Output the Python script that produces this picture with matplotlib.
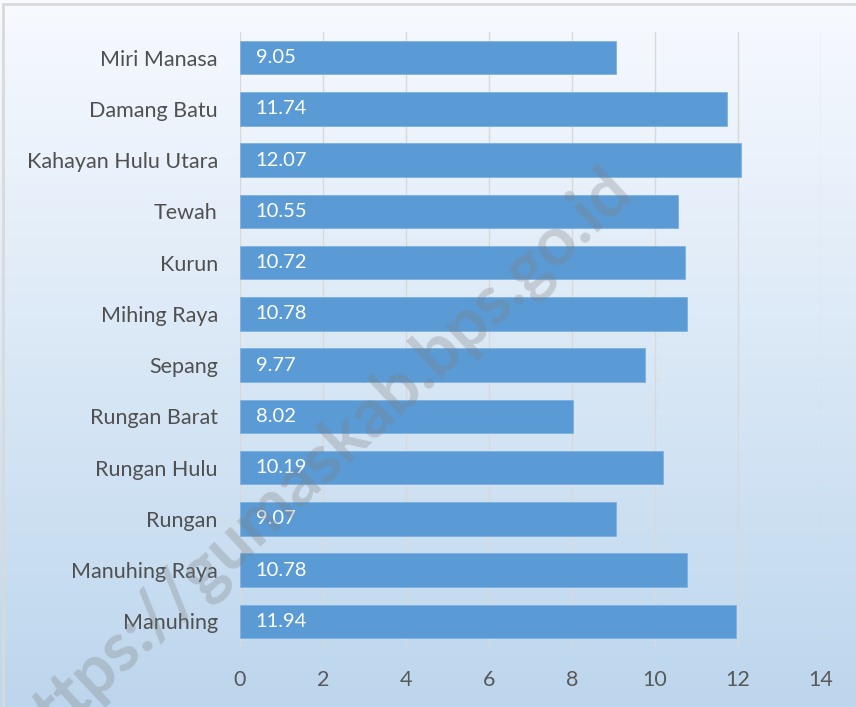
import numpy as np
import matplotlib
matplotlib.use('Agg')
from matplotlib import pyplot as plt
from matplotlib.patches import Rectangle

districts = ['Miri Manasa', 'Damang Batu', 'Kahayan Hulu Utara', 'Tewah', 'Kurun',
             'Mihing Raya', 'Sepang', 'Rungan Barat', 'Rungan Hulu', 'Rungan',
             'Manuhing Raya', 'Manuhing']
values = [9.05, 11.74, 12.07, 10.55, 10.72, 10.78, 9.77, 8.02, 10.19, 9.07, 10.78, 11.94]
xticks = [0, 2, 4, 6, 8, 10, 12, 14]

plt.rcParams['font.family'] = ['Lato', 'DejaVu Sans']

fig = plt.figure(figsize=(8.56, 7.07), dpi=100)

# background gradient, white at top to light blue at bottom
bg = fig.add_axes([0, 0, 1, 1], zorder=-10)
grad = np.linspace(0, 1, 256).reshape(-1, 1)
top = np.array([0.97, 0.98, 1.0])
bottom = np.array([0.74, 0.84, 0.93])
img = top + (bottom - top) * grad[..., None]
bg.imshow(img, aspect='auto', extent=[0, 1, 0, 1])
bg.set_axis_off()
bg.add_patch(Rectangle((0.004, -0.01), 1.0, 1.005, transform=bg.transAxes,
                       fill=False, edgecolor='#d9d9d9', linewidth=2))

ax = fig.add_axes([240 / 856, 60 / 707, (821 - 240) / 856, (675 - 60) / 707])
ax.patch.set_alpha(0)
ypos = np.arange(len(districts))
ax.barh(ypos, values, height=0.65, color='#5b9bd5', edgecolor='#7eb1df',
        linewidth=0.6, zorder=3)
for y, v in zip(ypos, values):
    ax.text(0.38, y, f'{v:.2f}', color='white', fontsize=14.5, va='center',
            ha='left', zorder=4)

ax.set_yticks(ypos)
ax.set_yticklabels(districts, fontsize=15.5, color='#505050')
ax.set_ylim(len(districts) - 0.5, -0.5)
ax.set_xlim(0, 14)
ax.set_xticks(xticks)
ax.set_xticklabels([str(t) for t in xticks], fontsize=15.5, color='#595959')
ax.tick_params(length=0)
ax.tick_params(axis='y', pad=16)
ax.tick_params(axis='x', pad=16.5)
ax.grid(axis='x', color='#d9d9d9', linewidth=1, zorder=0)
for s in ax.spines.values():
    s.set_visible(False)

fig.text(0.373, 0.345, 'https://gumaskab.bps.go.id', fontsize=49, fontweight='bold',
         color='#7f7f7f', alpha=0.3, rotation=43, ha='center', va='center',
         zorder=10)

fig.savefig('out.png', dpi=100)
